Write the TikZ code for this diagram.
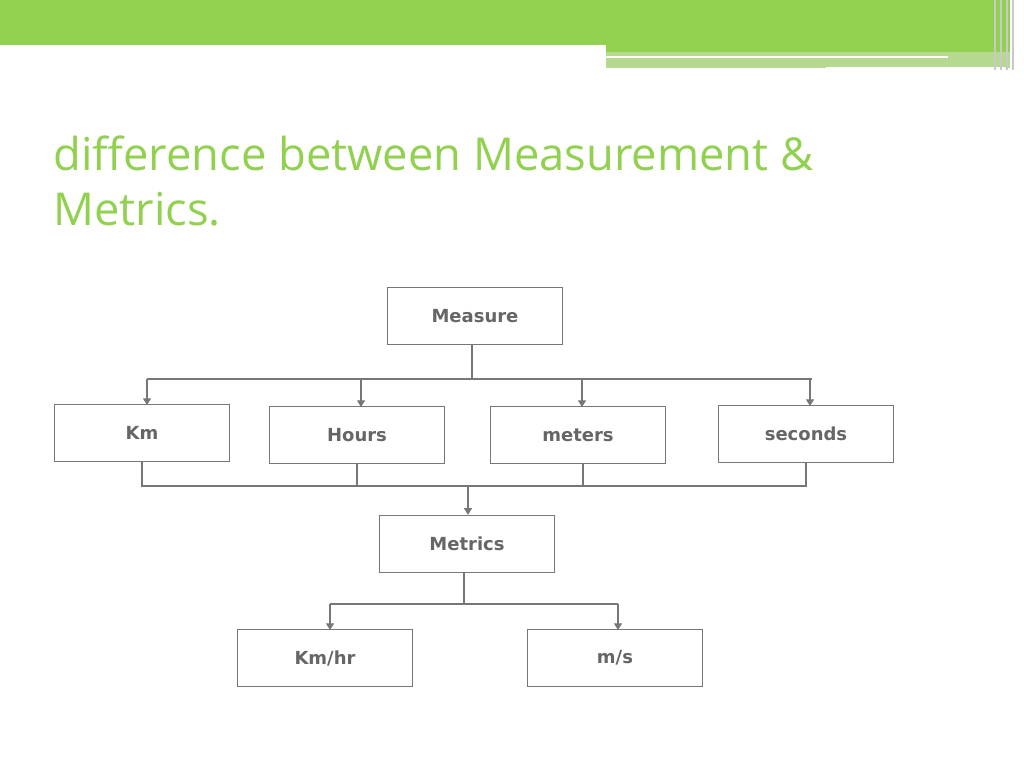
\documentclass[tikz,border=0pt]{standalone}
\usepackage{fontspec}
\setmainfont{Open Sans}
\newfontfamily\boxfont{DejaVu Sans}
\usetikzlibrary{arrows.meta}
\definecolor{barGreen}{HTML}{92D050}
\definecolor{lightGreen}{HTML}{B5D98F}
\definecolor{lineGray}{HTML}{777777}
\tikzset{unit/.style={rectangle,draw=lineGray,line width=1pt,fill=white,minimum width=175*0.75pt,minimum height=57*0.75pt,inner sep=0pt,font=\boxfont\bfseries\fontsize{13.5}{15}\selectfont,text=black!60}}
\tikzset{link/.style={draw=lineGray,line width=0.9pt}}
\tikzset{feed/.style={link,-{Triangle[length=5pt,width=6pt]}}}
\begin{document}
\begin{tikzpicture}[x=0.75pt,y=-0.75pt]
\useasboundingbox (0,0) rectangle (1024,768);
% header bars
\fill[lightGreen] (606,48) rectangle (1010,68);
\fill[barGreen] (0,0) rectangle (1010,45);
\fill[barGreen] (606,0) rectangle (1010,52);
\draw[white,line width=2pt] (606,57) -- (948,57);
\draw[white,line width=2pt] (826,68) -- (1005,68);
\foreach \xx in {995,1001,1007,1013} \draw[lineGray!40,line width=1pt] (\xx,0) -- (\xx,70);
% title
\node[anchor=north west,align=left,text=barGreen,font=\fontsize{34}{41}\selectfont,inner sep=0pt] (title) at (53,136) {difference between Measurement \&\\Metrics.};

\node[unit] (measure) at (475,316) {Measure};
\node[unit] (km) at (142,433) {Km};
\node[unit] (hours) at (357,435) {Hours};
\node[unit] (meters) at (578,435) {meters};
\node[unit] (seconds) at (806,434) {seconds};
\node[unit] (metrics) at (467,544) {Metrics};
\node[unit] (kmhr) at (325,658) {Km/hr};
\node[unit] (ms) at (615,658) {m/s};

\coordinate (top) at (472,379);
\coordinate (bot) at (468,486);
\coordinate (low) at (464,604);
\coordinate (mbot) at (583,486);

\draw[link] (measure.south -| top) -- (top);
\draw[link] (147,379) -- (812,379);
\draw[feed] (147,379) -- (147,405);
\draw[feed] (361,379) -- (361,407);
\draw[feed] (582,379) -- (582,407);
\draw[feed] (810,379) -- (810,406);

\draw[link] (km.south) -- (km.south |- bot) -- (seconds.south |- bot) -- (seconds.south);
\draw[link] (hours.south) -- (hours.south |- bot);
\draw[link] (meters.south -| mbot) -- (mbot);
\draw[feed] (bot) -- (metrics.north -| bot);

\draw[link] (metrics.south -| low) -- (low);
\draw[link] (330,604) -- (618,604);
\draw[feed] (330,604) -- (330,630);
\draw[feed] (618,604) -- (618,630);
\end{tikzpicture}
\end{document}
